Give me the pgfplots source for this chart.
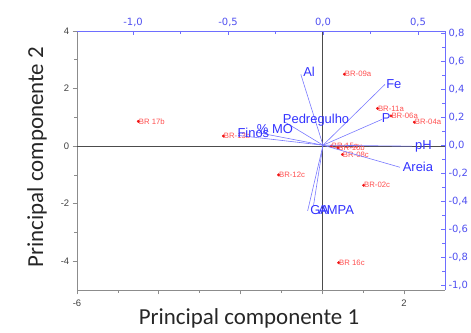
\documentclass[border=0pt]{standalone}
\usepackage{fontspec}
\setmainfont{Liberation Sans}
\newfontfamily\calibri{Carlito}
\newfontfamily\dejavu{DejaVu Sans}
\usepackage{pgfplots}
\pgfplotsset{compat=1.18}
\definecolor{axblue}{RGB}{110,110,255}
\definecolor{tickblue}{RGB}{80,80,240}
\definecolor{vecblue}{RGB}{120,120,255}
\definecolor{lblblue}{RGB}{50,50,255}
\definecolor{ptred}{RGB}{240,20,20}
\definecolor{lblred}{RGB}{255,80,80}
\definecolor{axgray}{RGB}{140,140,140}
\begin{document}
\begin{tikzpicture}
\path (0,0) rectangle (471bp,333bp);
% ---------- scores axis (bottom / left) ----------
\begin{axis}[
  scale only axis, width=368bp, height=259bp,
  at={(77bp,43bp)}, anchor=south west,
  xmin=-6, xmax=3, ymin=-5, ymax=4,
  axis x line*=bottom, axis y line*=left,
  axis line style={color=axgray, line width=0.8pt},
  every tick/.style={color=axgray, line width=0.6pt},
  tick align=outside,
  xtick={-6,-4,-2,0,2}, xticklabels={-6,,,,2},
  minor x tick num=1,
  ytick={-4,-2,0,2,4}, yticklabels={-4,-2,0,2,4},
  minor y tick num=1,
  tick label style={font=\fontsize{9.5}{11}\selectfont, text=black!75},
  xticklabel style={yshift=-2bp},
  clip=false,
]
\draw[black!70, line width=0.7pt] (axis cs:0,-5) -- (axis cs:0,4);
\draw[black!70, line width=0.7pt] (axis cs:-6,0) -- (axis cs:3,0);
\addplot[only marks, mark=*, mark size=1.3pt, color=ptred,
  nodes near coords, point meta=explicit symbolic,
  every node near coord/.style={anchor=west, xshift=-3bp, yshift=0bp,
     font=\fontsize{7.8}{9}\selectfont, text=lblred}]
coordinates {
  (-4.50,0.86) [BR 17b]
  (-2.42,0.35) [BR-13b]
  (-1.07,-1.00) [BR-12c]
  (1.01,-1.36) [BR-02c]
  (0.40,-4.05) [BR 16c]
  (0.54,2.50) [BR-09a]
  (1.35,1.31) [BR-11a]
  (1.68,1.05) [BR-06a]
  (2.25,0.83) [BR-04a]
  (0.49,-0.29) [BR-08c]
  (0.22,0.00) [BR-15a]
  (0.38,-0.06) [BR-10b]
};
\end{axis}
% ---------- loadings axis (top / right) ----------
\begin{axis}[
  scale only axis, width=368bp, height=259bp,
  at={(77bp,43bp)}, anchor=south west,
  xmin=-1.295, xmax=0.642, ymin=-1.036, ymax=0.817,
  axis x line*=top, axis y line*=right,
  axis line style={color=axblue, line width=0.8pt},
  every tick/.style={color=axblue, line width=0.8pt},
  tick align=inside,
  xtick={-1,-0.5,0,0.5}, minor x tick num=1,
  ytick={-1,-0.8,-0.6,-0.4,-0.2,0,0.2,0.4,0.6,0.8}, minor y tick num=1,
  tick label style={font=\dejavu\fontsize{10}{12}\selectfont, text=tickblue},
  xticklabel style={yshift=1bp},
  /pgf/number format/.cd, fixed, fixed zerofill, precision=1, use comma, assume math mode=true,
  clip=false,
]
\addplot[vecblue, line width=0.6pt] coordinates {(0,0) (-0.117,0.507)};
\addplot[vecblue, line width=0.6pt] coordinates {(0,0) (0.326,0.435)};
\addplot[vecblue, line width=0.6pt] coordinates {(0,0) (0.309,0.184)};
\addplot[vecblue, line width=0.6pt] coordinates {(0,0) (0.467,-0.007)};
\addplot[vecblue, line width=0.6pt] coordinates {(0,0) (0.405,-0.158)};
\addplot[vecblue, line width=0.6pt] coordinates {(0,0) (-0.200,0.165)};
\addplot[vecblue, line width=0.6pt] coordinates {(0,0) (-0.347,0.091)};
\addplot[vecblue, line width=0.6pt] coordinates {(0,0) (-0.447,0.070)};
\addplot[vecblue, line width=0.6pt] coordinates {(0,0) (-0.081,-0.470)};
\addplot[vecblue, line width=0.6pt] coordinates {(0,0) (-0.050,-0.430)};
\node[anchor=west, inner sep=0pt, text=lblblue, font=\fontsize{13}{15}\selectfont] at (axis cs:-0.105,0.528) {Al};
\node[anchor=west, inner sep=0pt, text=lblblue, font=\fontsize{13}{15}\selectfont] at (axis cs:0.332,0.435) {Fe};
\node[anchor=west, inner sep=0pt, text=lblblue, font=\fontsize{13}{15}\selectfont] at (axis cs:0.309,0.196) {P};
\node[anchor=west, inner sep=0pt, text=lblblue, font=\fontsize{13}{15}\selectfont] at (axis cs:0.484,-0.007) {pH};
\node[anchor=west, inner sep=0pt, text=lblblue, font=\fontsize{13}{15}\selectfont] at (axis cs:0.419,-0.158) {Areia};
\node[anchor=west, inner sep=0pt, text=lblblue, font=\fontsize{13}{15}\selectfont] at (axis cs:-0.212,0.179) {Pedregulho};
\node[anchor=west, inner sep=0pt, text=lblblue, font=\fontsize{13}{15}\selectfont] at (axis cs:-0.349,0.113) {\% MO};
\node[anchor=west, inner sep=0pt, text=lblblue, font=\fontsize{13}{15}\selectfont] at (axis cs:-0.451,0.089) {Finos};
\node[anchor=west, inner sep=0pt, text=lblblue, font=\fontsize{13}{15}\selectfont] at (axis cs:-0.068,-0.461) {GA};
\node[anchor=west, inner sep=0pt, text=lblblue, font=\fontsize{13}{15}\selectfont] at (axis cs:-0.026,-0.461) {AMPA};
\end{axis}
% ---------- axis titles ----------
\node[font=\calibri\fontsize{23}{26}\selectfont, text=black!85] at (249bp,15bp) {Principal componente 1};
\node[font=\calibri\fontsize{23}{26}\selectfont, text=black!85, rotate=90] at (37bp,176bp) {Principal componente 2};
\pgfresetboundingbox
\path[use as bounding box] (0,0) rectangle (471bp,333bp);
\end{tikzpicture}
\end{document}
